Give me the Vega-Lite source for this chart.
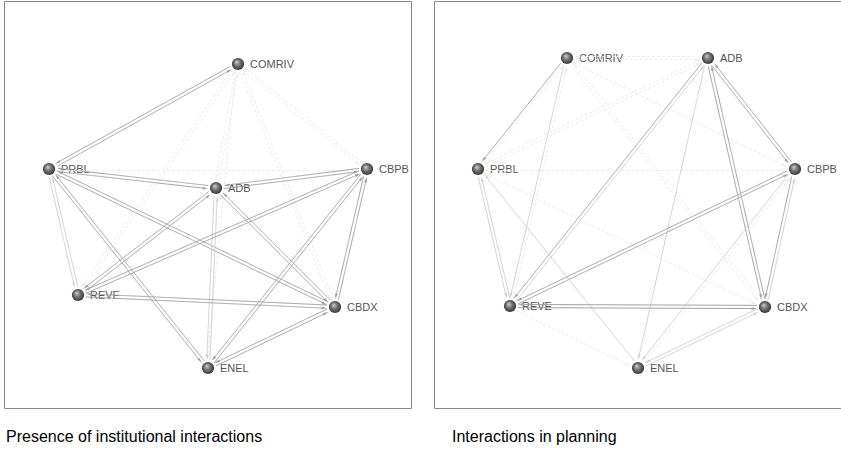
{
  "$schema": "https://vega.github.io/schema/vega-lite/v6.json",
  "background": "white",
  "padding": {"left": 3, "top": 0, "right": 0, "bottom": 0},
  "spacing": 21,
  "config": {"view": {"stroke": "#8a8a8a", "strokeWidth": 1}, "concat": {"spacing": 21}},
  "datasets": {
    "nodesA": [
      {"node": "COMRIV", "x": 234, "y": 63},
      {"node": "PRBL", "x": 45, "y": 168},
      {"node": "ADB", "x": 212, "y": 187},
      {"node": "CBPB", "x": 363, "y": 168},
      {"node": "REVE", "x": 74, "y": 294},
      {"node": "CBDX", "x": 331, "y": 306},
      {"node": "ENEL", "x": 204, "y": 367}
    ],
    "nodesB": [
      {"node": "COMRIV", "x": 133, "y": 57},
      {"node": "ADB", "x": 274, "y": 57},
      {"node": "PRBL", "x": 44, "y": 168},
      {"node": "CBPB", "x": 361, "y": 168},
      {"node": "REVE", "x": 76, "y": 305},
      {"node": "CBDX", "x": 331, "y": 306},
      {"node": "ENEL", "x": 204, "y": 367}
    ],
    "edgesA": [
      {"source": "COMRIV", "target": "PRBL", "strength": 3},
      {"source": "PRBL", "target": "COMRIV", "strength": 3},
      {"source": "COMRIV", "target": "ADB", "strength": 1},
      {"source": "ADB", "target": "COMRIV", "strength": 1},
      {"source": "COMRIV", "target": "CBPB", "strength": 1},
      {"source": "CBPB", "target": "COMRIV", "strength": 1},
      {"source": "COMRIV", "target": "REVE", "strength": 1},
      {"source": "REVE", "target": "COMRIV", "strength": 1},
      {"source": "COMRIV", "target": "CBDX", "strength": 1},
      {"source": "CBDX", "target": "COMRIV", "strength": 1},
      {"source": "COMRIV", "target": "ENEL", "strength": 1},
      {"source": "PRBL", "target": "ADB", "strength": 3},
      {"source": "ADB", "target": "PRBL", "strength": 3},
      {"source": "PRBL", "target": "CBPB", "strength": 1},
      {"source": "PRBL", "target": "REVE", "strength": 2},
      {"source": "REVE", "target": "PRBL", "strength": 2},
      {"source": "PRBL", "target": "CBDX", "strength": 3},
      {"source": "CBDX", "target": "PRBL", "strength": 3},
      {"source": "PRBL", "target": "ENEL", "strength": 3},
      {"source": "ENEL", "target": "PRBL", "strength": 3},
      {"source": "ADB", "target": "CBPB", "strength": 3},
      {"source": "CBPB", "target": "ADB", "strength": 3},
      {"source": "ADB", "target": "REVE", "strength": 3},
      {"source": "REVE", "target": "ADB", "strength": 3},
      {"source": "ADB", "target": "CBDX", "strength": 3},
      {"source": "CBDX", "target": "ADB", "strength": 3},
      {"source": "ADB", "target": "ENEL", "strength": 2},
      {"source": "ENEL", "target": "ADB", "strength": 2},
      {"source": "CBPB", "target": "REVE", "strength": 3},
      {"source": "REVE", "target": "CBPB", "strength": 3},
      {"source": "CBPB", "target": "CBDX", "strength": 3},
      {"source": "CBDX", "target": "CBPB", "strength": 3},
      {"source": "CBPB", "target": "ENEL", "strength": 3},
      {"source": "ENEL", "target": "CBPB", "strength": 3},
      {"source": "REVE", "target": "CBDX", "strength": 3},
      {"source": "CBDX", "target": "REVE", "strength": 3},
      {"source": "CBDX", "target": "ENEL", "strength": 3},
      {"source": "ENEL", "target": "CBDX", "strength": 3}
    ],
    "edgesB": [
      {"source": "COMRIV", "target": "PRBL", "strength": 3},
      {"source": "PRBL", "target": "COMRIV", "strength": 1},
      {"source": "COMRIV", "target": "ADB", "strength": 1},
      {"source": "ADB", "target": "COMRIV", "strength": 1},
      {"source": "COMRIV", "target": "CBPB", "strength": 1},
      {"source": "COMRIV", "target": "REVE", "strength": 2},
      {"source": "REVE", "target": "COMRIV", "strength": 1},
      {"source": "COMRIV", "target": "CBDX", "strength": 1},
      {"source": "CBDX", "target": "COMRIV", "strength": 1},
      {"source": "PRBL", "target": "ADB", "strength": 1},
      {"source": "ADB", "target": "PRBL", "strength": 1},
      {"source": "PRBL", "target": "CBPB", "strength": 1},
      {"source": "PRBL", "target": "REVE", "strength": 2},
      {"source": "REVE", "target": "PRBL", "strength": 2},
      {"source": "PRBL", "target": "CBDX", "strength": 1},
      {"source": "ENEL", "target": "PRBL", "strength": 2},
      {"source": "ADB", "target": "CBPB", "strength": 3},
      {"source": "CBPB", "target": "ADB", "strength": 3},
      {"source": "ADB", "target": "REVE", "strength": 3},
      {"source": "REVE", "target": "ADB", "strength": 2},
      {"source": "ADB", "target": "CBDX", "strength": 3},
      {"source": "CBDX", "target": "ADB", "strength": 3},
      {"source": "ADB", "target": "ENEL", "strength": 2},
      {"source": "CBPB", "target": "REVE", "strength": 3},
      {"source": "REVE", "target": "CBPB", "strength": 3},
      {"source": "CBPB", "target": "CBDX", "strength": 3},
      {"source": "CBDX", "target": "CBPB", "strength": 2},
      {"source": "CBPB", "target": "ENEL", "strength": 2},
      {"source": "ENEL", "target": "CBPB", "strength": 1},
      {"source": "REVE", "target": "CBDX", "strength": 3},
      {"source": "CBDX", "target": "REVE", "strength": 3},
      {"source": "REVE", "target": "ENEL", "strength": 1},
      {"source": "CBDX", "target": "ENEL", "strength": 2},
      {"source": "ENEL", "target": "CBDX", "strength": 2}
    ]
  },
  "hconcat": [
    {
      "width": 407,
      "height": 407,
      "title": {"text": "Presence of institutional interactions", "orient": "bottom", "anchor": "start", "dx": 2, "offset": 21, "font": "Liberation Sans", "fontSize": 16, "fontWeight": "normal", "color": "#000"},
      "layer": [
        {
          "data": {"name": "nodesA"},
          "mark": {"type": "text", "align": "left", "baseline": "middle", "dx": 12, "dy": 1, "font": "Liberation Sans", "fontSize": 11, "color": "#555"},
          "encoding": {
            "x": {"field": "x", "type": "quantitative", "scale": {"domain": [0, 407]}, "axis": null},
            "y": {"field": "y", "type": "quantitative", "scale": {"domain": [0, 407], "reverse": true}, "axis": null},
            "text": {"field": "node"}
          }
        },
        {
          "data": {"name": "edgesA"},
          "transform": [
            {"lookup": "source", "from": {"data": {"name": "nodesA"}, "key": "node", "fields": ["x", "y"]}, "as": ["sx", "sy"]},
            {"lookup": "target", "from": {"data": {"name": "nodesA"}, "key": "node", "fields": ["x", "y"]}, "as": ["tx", "ty"]},
            {"calculate": "sqrt(pow(datum.tx-datum.sx,2)+pow(datum.ty-datum.sy,2))", "as": "len"},
            {"calculate": "(datum.tx-datum.sx)/datum.len", "as": "ux"},
            {"calculate": "(datum.ty-datum.sy)/datum.len", "as": "uy"},
            {"calculate": "datum.sx+datum.ux*8-datum.uy*1.6", "as": "x1"},
            {"calculate": "datum.sy+datum.uy*8+datum.ux*1.6", "as": "y1"},
            {"calculate": "datum.tx-datum.ux*11-datum.uy*1.6", "as": "x2"},
            {"calculate": "datum.ty-datum.uy*11+datum.ux*1.6", "as": "y2"},
            {"calculate": "atan2(datum.ux,-datum.uy)*180/PI", "as": "ang"}
          ],
          "layer": [
            {
              "mark": {"type": "rule", "strokeWidth": 1},
              "encoding": {
                "x": {"field": "x1", "type": "quantitative", "scale": {"domain": [0, 407]}, "axis": null},
                "y": {"field": "y1", "type": "quantitative", "scale": {"domain": [0, 407], "reverse": true}, "axis": null},
                "x2": {"field": "x2"},
                "y2": {"field": "y2"},
                "color": {"field": "strength", "type": "ordinal", "scale": {"domain": [1, 2, 3], "range": ["#ebebeb", "#d0d0d0", "#a2a2a2"]}, "legend": null},
                "strokeDash": {"field": "strength", "type": "ordinal", "scale": {"domain": [1, 2, 3], "range": [[3, 2], [1, 0], [1, 0]]}, "legend": null}
              }
            },
            {
              "mark": {"type": "point", "filled": true, "shape": "M0,-1L0.45,0.8L-0.45,0.8Z", "size": 36, "opacity": 1},
              "encoding": {
                "x": {"field": "x2", "type": "quantitative", "scale": {"domain": [0, 407]}, "axis": null},
                "y": {"field": "y2", "type": "quantitative", "scale": {"domain": [0, 407], "reverse": true}, "axis": null},
                "angle": {"field": "ang", "type": "quantitative", "scale": null},
                "color": {"field": "strength", "type": "ordinal", "scale": {"domain": [1, 2, 3], "range": ["#ebebeb", "#d0d0d0", "#a2a2a2"]}, "legend": null}
              }
            }
          ]
        },
        {
          "data": {"name": "nodesA"},
          "mark": {"type": "point", "shape": "circle", "size": 150, "strokeWidth": 0, "opacity": 1, "fill": {"gradient": "radial", "x1": 0.38, "y1": 0.32, "r1": 0, "x2": 0.5, "y2": 0.5, "r2": 0.55, "stops": [{"offset": 0, "color": "#d8d8d8"}, {"offset": 0.45, "color": "#777777"}, {"offset": 1, "color": "#2e2e2e"}]}},
          "encoding": {
            "x": {"field": "x", "type": "quantitative", "scale": {"domain": [0, 407]}, "axis": null},
            "y": {"field": "y", "type": "quantitative", "scale": {"domain": [0, 407], "reverse": true}, "axis": null}
          }
        }
      ]
    },
    {
      "width": 407,
      "height": 407,
      "title": {"text": "Interactions in planning", "orient": "bottom", "anchor": "start", "dx": 18, "offset": 21, "font": "Liberation Sans", "fontSize": 16, "fontWeight": "normal", "color": "#000"},
      "layer": [
        {
          "data": {"name": "nodesB"},
          "mark": {"type": "text", "align": "left", "baseline": "middle", "dx": 12, "dy": 1, "font": "Liberation Sans", "fontSize": 11, "color": "#555"},
          "encoding": {
            "x": {"field": "x", "type": "quantitative", "scale": {"domain": [0, 407]}, "axis": null},
            "y": {"field": "y", "type": "quantitative", "scale": {"domain": [0, 407], "reverse": true}, "axis": null},
            "text": {"field": "node"}
          }
        },
        {
          "data": {"name": "edgesB"},
          "transform": [
            {"lookup": "source", "from": {"data": {"name": "nodesB"}, "key": "node", "fields": ["x", "y"]}, "as": ["sx", "sy"]},
            {"lookup": "target", "from": {"data": {"name": "nodesB"}, "key": "node", "fields": ["x", "y"]}, "as": ["tx", "ty"]},
            {"calculate": "sqrt(pow(datum.tx-datum.sx,2)+pow(datum.ty-datum.sy,2))", "as": "len"},
            {"calculate": "(datum.tx-datum.sx)/datum.len", "as": "ux"},
            {"calculate": "(datum.ty-datum.sy)/datum.len", "as": "uy"},
            {"calculate": "datum.sx+datum.ux*8-datum.uy*1.6", "as": "x1"},
            {"calculate": "datum.sy+datum.uy*8+datum.ux*1.6", "as": "y1"},
            {"calculate": "datum.tx-datum.ux*11-datum.uy*1.6", "as": "x2"},
            {"calculate": "datum.ty-datum.uy*11+datum.ux*1.6", "as": "y2"},
            {"calculate": "atan2(datum.ux,-datum.uy)*180/PI", "as": "ang"}
          ],
          "layer": [
            {
              "mark": {"type": "rule", "strokeWidth": 1},
              "encoding": {
                "x": {"field": "x1", "type": "quantitative", "scale": {"domain": [0, 407]}, "axis": null},
                "y": {"field": "y1", "type": "quantitative", "scale": {"domain": [0, 407], "reverse": true}, "axis": null},
                "x2": {"field": "x2"},
                "y2": {"field": "y2"},
                "color": {"field": "strength", "type": "ordinal", "scale": {"domain": [1, 2, 3], "range": ["#ebebeb", "#d0d0d0", "#a2a2a2"]}, "legend": null},
                "strokeDash": {"field": "strength", "type": "ordinal", "scale": {"domain": [1, 2, 3], "range": [[3, 2], [1, 0], [1, 0]]}, "legend": null}
              }
            },
            {
              "mark": {"type": "point", "filled": true, "shape": "M0,-1L0.45,0.8L-0.45,0.8Z", "size": 36, "opacity": 1},
              "encoding": {
                "x": {"field": "x2", "type": "quantitative", "scale": {"domain": [0, 407]}, "axis": null},
                "y": {"field": "y2", "type": "quantitative", "scale": {"domain": [0, 407], "reverse": true}, "axis": null},
                "angle": {"field": "ang", "type": "quantitative", "scale": null},
                "color": {"field": "strength", "type": "ordinal", "scale": {"domain": [1, 2, 3], "range": ["#ebebeb", "#d0d0d0", "#a2a2a2"]}, "legend": null}
              }
            }
          ]
        },
        {
          "data": {"name": "nodesB"},
          "mark": {"type": "point", "shape": "circle", "size": 150, "strokeWidth": 0, "opacity": 1, "fill": {"gradient": "radial", "x1": 0.38, "y1": 0.32, "r1": 0, "x2": 0.5, "y2": 0.5, "r2": 0.55, "stops": [{"offset": 0, "color": "#d8d8d8"}, {"offset": 0.45, "color": "#777777"}, {"offset": 1, "color": "#2e2e2e"}]}},
          "encoding": {
            "x": {"field": "x", "type": "quantitative", "scale": {"domain": [0, 407]}, "axis": null},
            "y": {"field": "y", "type": "quantitative", "scale": {"domain": [0, 407], "reverse": true}, "axis": null}
          }
        }
      ]
    }
  ]
}
